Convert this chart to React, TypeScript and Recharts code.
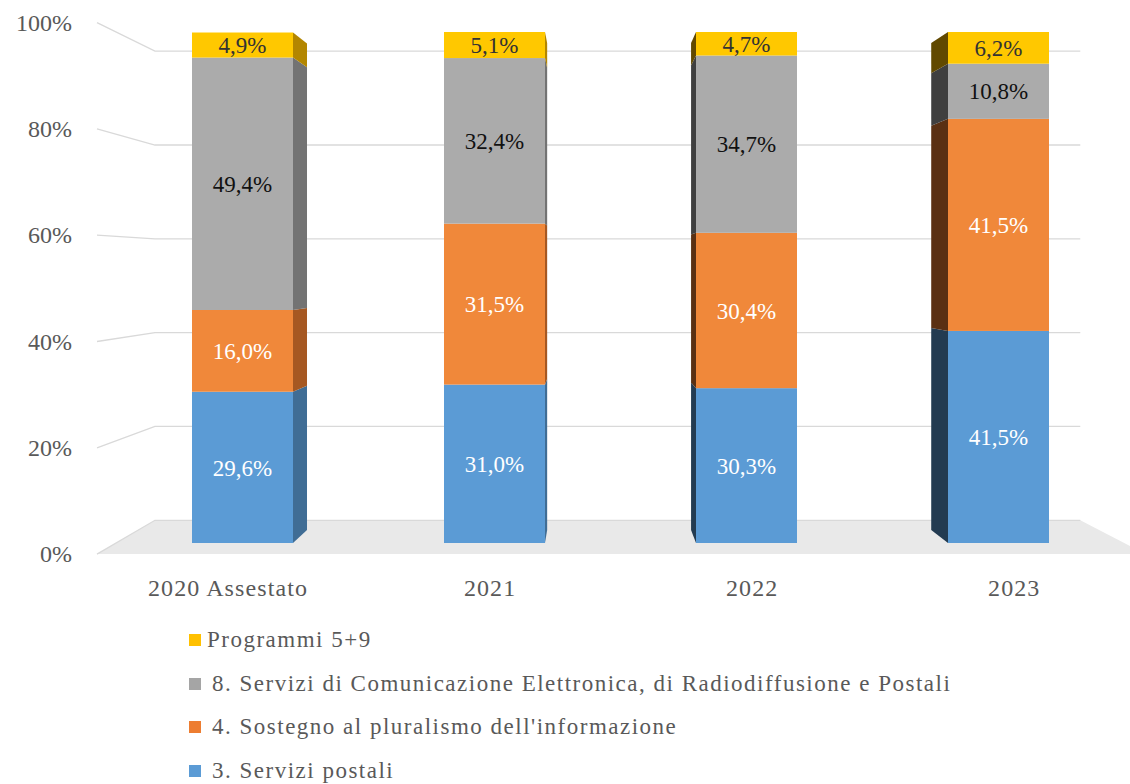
import React from "react";
import { BarChart, Bar, XAxis, YAxis, CartesianGrid, LabelList } from "recharts";

const categories = ["2020 Assestato", "2021", "2022", "2023"];
const postali = [29.6, 31.0, 30.3, 41.5];
const pluralismo = [16.0, 31.5, 30.4, 41.5];
const comunicazione = [49.4, 32.4, 34.7, 10.8];
const programmi = [4.9, 5.1, 4.7, 6.2];
const yTicks = [0, 20, 40, 60, 80, 100];

const series = [
  { key: "postali", name: "3. Servizi postali", values: postali, color: "#5B9BD5", face: "#5B9BD5", text: "#ffffff" },
  { key: "pluralismo", name: "4. Sostegno al pluralismo dell'informazione", values: pluralismo, color: "#ED7D31", face: "#F0883A", text: "#ffffff" },
  { key: "comunicazione", name: "8. Servizi di Comunicazione Elettronica, di Radiodiffusione e Postali", values: comunicazione, color: "#A5A5A5", face: "#ABABAB", text: "#111111" },
  { key: "programmi", name: "Programmi 5+9", values: programmi, color: "#FFC000", face: "#FFC800", text: "#333333" },
];

const data = categories.map((category, i) => {
  const row: Record<string, any> = { category };
  series.forEach((s) => (row[s.key] = s.values[i]));
  return row;
});

// layout / fake-perspective settings
const W = 1130;
const H = 784;
const Y_AXIS_W = 60;
const X_AXIS_H = 30;
const PLOT_LEFT = 116;
const PLOT_RIGHT = 1124;
const PLOT_TOP = 32;
const PLOT_BOTTOM = 543;
const VP_X = 591;
const VP_Y = 266;
const K_BAR = 0.953; // back side of bars
const K_WALL = 0.918; // back wall
const K_FRONT = 1.04; // front edge of floor
const FONT = "Liberation Serif, DejaVu Serif, serif";
const AXIS_COLOR = "#595959";
const GRID_COLOR = "#D9D9D9";

const project = (x: number, y: number, k: number) => [VP_X + (x - VP_X) * k, VP_Y + (y - VP_Y) * k];

const shade = (hex: string, f: number) => {
  const n = parseInt(hex.slice(1), 16);
  const r = Math.round(((n >> 16) & 255) * f);
  const g = Math.round(((n >> 8) & 255) * f);
  const b = Math.round((n & 255) * f);
  return `rgb(${r},${g},${b})`;
};

const fmt = (v: any) => `${Number(v).toFixed(1).replace(".", ",")}%`;

const renderGridLine = (p: any) => {
  const y = p.y1;
  const [bx1, by] = project(PLOT_LEFT, y, K_WALL);
  const [bx2] = project(PLOT_RIGHT, y, K_WALL);
  const [fx1, fy] = project(PLOT_LEFT, y, K_FRONT);
  const [fx2] = project(PLOT_RIGHT, y, K_FRONT);
  const isFloor = Math.abs(y - PLOT_BOTTOM) < 1;
  return (
    <g key={p.key ?? `grid-${p.index}`}>
      {isFloor && (
        <polygon points={`${bx1},${by} ${bx2},${by} ${fx2},${fy} ${fx1},${fy}`} fill="#E9E9E9" />
      )}
      <polyline points={`${fx1},${fy} ${bx1},${by} ${bx2},${by}`} fill="none" stroke={GRID_COLOR} strokeWidth={1.3} />
    </g>
  );
};

const YTick = (p: any) => {
  const [, ly] = project(PLOT_LEFT, p.y, K_FRONT);
  return (
    <text x={72} y={ly} textAnchor="end" dominantBaseline="central" fill={AXIS_COLOR} fontSize={24} fontFamily={FONT}>
      {p.payload.value}%
    </text>
  );
};

const XTick = (p: any) => {
  const [lx] = project(p.x, PLOT_BOTTOM, K_FRONT);
  return (
    <text
      x={lx}
      y={588}
      textAnchor="middle"
      dominantBaseline="central"
      fill={AXIS_COLOR}
      fontSize={24}
      fontFamily={FONT}
      style={{ letterSpacing: 1.1 }}
    >
      {p.payload.value}
    </text>
  );
};

const renderBar3D = (p: any, s: (typeof series)[number]) => {
  const { x, y, width, height } = p;
  if (!height || height <= 0) return <g />;
  const left = x;
  const right = x + width;
  const top = y;
  const bottom = y + height;
  let side = null;
  if (right < VP_X) {
    const [tx, ty] = project(right, top, K_BAR);
    const [bx, byy] = project(right, bottom, K_BAR);
    side = <polygon points={`${right},${top} ${tx},${ty} ${bx},${byy} ${right},${bottom}`} fill={shade(s.color, 0.7)} />;
  } else if (left > VP_X) {
    const [tx, ty] = project(left, top, K_BAR);
    const [bx, byy] = project(left, bottom, K_BAR);
    side = <polygon points={`${left},${top} ${tx},${ty} ${bx},${byy} ${left},${bottom}`} fill={shade(s.color, 0.38)} />;
  }
  return (
    <g>
      {side}
      <rect x={x} y={y} width={width} height={height} fill={s.face} />
    </g>
  );
};

const ChartLegend = () => (
  <div
    style={{
      position: "absolute",
      left: 189,
      top: 618,
      fontFamily: FONT,
      fontSize: 23,
      letterSpacing: 1.5,
      color: AXIS_COLOR,
    }}
  >
    {[...series].reverse().map((s, i) => (
      <div key={s.key} style={{ display: "flex", alignItems: "center", height: 43.7, whiteSpace: "nowrap" }}>
        <span
          style={{
            width: 12,
            height: 12,
            background: s.color,
            display: "inline-block",
            marginRight: i === 0 ? 6 : 11,
          }}
        />
        <span>{s.name}</span>
      </div>
    ))}
  </div>
);

export default function App() {
  return (
    <div style={{ position: "absolute", left: 0, top: 0, width: W, height: H, background: "#fff" }}>
      <BarChart
        width={W}
        height={H}
        data={data}
        margin={{ top: PLOT_TOP, right: W - PLOT_RIGHT, bottom: H - PLOT_BOTTOM - X_AXIS_H, left: PLOT_LEFT - Y_AXIS_W }}
      >
        <CartesianGrid vertical={false} horizontal={renderGridLine} />
        <XAxis dataKey="category" height={X_AXIS_H} axisLine={false} tickLine={false} tick={<XTick />} interval={0} />
        <YAxis
          width={Y_AXIS_W}
          domain={[0, 100]}
          ticks={yTicks}
          allowDataOverflow
          axisLine={false}
          tickLine={false}
          tick={<YTick />}
        />
        {series.map((s) => (
          <Bar
            key={s.key}
            dataKey={s.key}
            name={s.name}
            stackId="a"
            fill={s.color}
            barSize={101}
            isAnimationActive={false}
            shape={(p: any) => renderBar3D(p, s)}
          >
            <LabelList dataKey={s.key} position="center" formatter={fmt} fill={s.text} fontSize={23} fontFamily={FONT} />
          </Bar>
        ))}
      </BarChart>
      <ChartLegend />
    </div>
  );
}
